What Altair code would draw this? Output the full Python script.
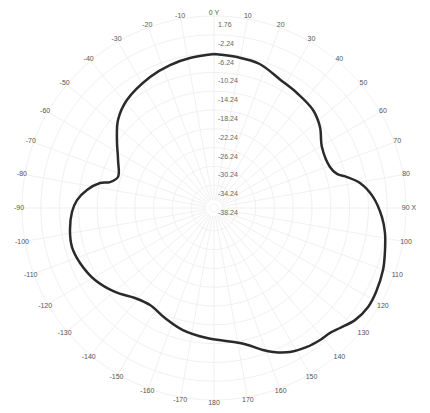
import altair as alt
import pandas as pd

# Radiation pattern (angle in degrees, clockwise from 0 Y; gain in dB)
angles = [0.0, 8.7, 17.6, 27.6, 35.8, 45.3, 52.6, 60.5, 70.5, 74.5, 76.9, 80.3,
          86.0, 93.1, 98.3, 103.8, 110.1, 117.4, 122.7, 128.5, 133.6, 137.1,
          141.2, 146.2, 152.2, 157.7, 161.0, 166.1, 169.1, 183.1, 194.3, 204.0,
          213.4, 221.3, 229.7, 238.8, 247.7, 254.6, 261.3, 268.4, 273.3, 278.1,
          282.4, 284.0, 287.9, 296.6, 305.0, 312.5, 321.1, 334.0, 342.9, 350.9, 360.0]
gains = [-6.33, -6.60, -6.95, -8.40, -8.92, -9.45, -10.71, -12.71, -12.92, -11.94,
         -10.03, -7.58, -5.18, -3.30, -2.33, -1.62, -0.79, -0.26, -0.13, -0.77,
         -2.07, -2.81, -3.07, -3.52, -4.45, -5.98, -7.13, -9.05, -9.84, -11.39,
         -12.30, -13.47, -14.37, -13.60, -11.47, -9.50, -8.28, -7.75, -8.09,
         -8.86, -9.90, -11.79, -14.26, -16.28, -17.62, -16.26, -13.88, -11.39,
         -9.58, -8.07, -7.26, -6.77, -6.33]

ring_values = [1.76, -2.24, -6.24, -10.24, -14.24, -18.24, -22.24, -26.24,
               -30.24, -34.24, -38.24]
ring_labels = ["1.76", "-2.24", "-6.24", "-10.24", "-14.24", "-18.24", "-22.24",
               "-26.24", "-30.24", "-34.24", "-38.24"]

angle_ticks = [0, 10, 20, 30, 40, 50, 60, 70, 80, 90, 100, 110, 120, 130, 140,
               150, 160, 170, 180, -170, -160, -150, -140, -130, -120, -110,
               -100, -90, -80, -70, -60, -50, -40, -30, -20, -10]
angle_labels = ["0 Y", "10", "20", "30", "40", "50", "60", "70", "80", "90 X",
                "100", "110", "120", "130", "140", "150", "160", "170", "180",
                "-170", "-160", "-150", "-140", "-130", "-120", "-110", "-100",
                "-90", "-80", "-70", "-60", "-50", "-40", "-30", "-20", "-10"]

grid_angles = list(range(0, 361, 3))
spoke_angles = list(range(0, 360, 10))

K = 4.7
BASE = -38.24
OFF = 4
R_EXPR = f"{K}*(datum.gain - ({BASE})) + {OFF}"

curve_df = pd.DataFrame({"angle": angles, "gain": gains, "idx": range(len(angles))})
rings_df = pd.DataFrame([(g, a) for g in ring_values for a in grid_angles],
                        columns=["gain", "angle"])
spokes_df = pd.DataFrame({"angle": spoke_angles})
ringlab_df = pd.DataFrame({"gain": ring_values, "label": ring_labels})
anglab_df = pd.DataFrame({"angle": angle_ticks, "label": angle_labels})

xs = alt.Scale(domain=[-206, 206], nice=False, zero=False)
ys = alt.Scale(domain=[-200, 200], nice=False, zero=False)


def xy(chart):
    return chart.transform_calculate(
        r=R_EXPR
    ).transform_calculate(
        x="datum.r*sin(datum.angle*PI/180)",
        y="datum.r*cos(datum.angle*PI/180)",
    )


rings = xy(alt.Chart(rings_df)).mark_line(color="#ececec", strokeWidth=0.8).encode(
    x=alt.X("x:Q", scale=xs, axis=None),
    y=alt.Y("y:Q", scale=ys, axis=None),
    detail="gain:N",
    order="angle:Q",
)

spokes = alt.Chart(spokes_df).transform_calculate(
    x="8*sin(datum.angle*PI/180)",
    y="8*cos(datum.angle*PI/180)",
    x2=f"({K}*(1.76-({BASE}))+{OFF})*sin(datum.angle*PI/180)",
    y2=f"({K}*(1.76-({BASE}))+{OFF})*cos(datum.angle*PI/180)",
).mark_rule(color="#ececec", strokeWidth=0.8).encode(
    x=alt.X("x:Q", scale=xs, axis=None),
    y=alt.Y("y:Q", scale=ys, axis=None),
    x2="x2:Q",
    y2="y2:Q",
)

curve = xy(alt.Chart(curve_df)).mark_line(color="#2a2a2a", strokeWidth=2.5,
                                          strokeJoin="round",
                                          interpolate="catmull-rom").encode(
    x=alt.X("x:Q", scale=xs, axis=None),
    y=alt.Y("y:Q", scale=ys, axis=None),
    order="idx:Q",
)

ringlabs = alt.Chart(ringlab_df).transform_calculate(
    r=R_EXPR
).transform_calculate(
    x="4", y="datum.r - 9"
).mark_text(align="left", baseline="middle", fontSize=7, color="#666",
            font="Liberation Sans").encode(
    x=alt.X("x:Q", scale=xs, axis=None),
    y=alt.Y("y:Q", scale=ys, axis=None),
    text="label:N",
)

anglabs = alt.Chart(anglab_df).transform_calculate(
    x="195*sin(datum.angle*PI/180)",
    y="195*cos(datum.angle*PI/180)",
).mark_text(align="center", baseline="middle", fontSize=7, color="#555",
            font="Liberation Sans").encode(
    x=alt.X("x:Q", scale=xs, axis=None),
    y=alt.Y("y:Q", scale=ys, axis=None),
    text="label:N",
)

chart = alt.layer(rings, spokes, ringlabs, anglabs, curve).properties(
    width=412, height=400, padding=0,
    autosize=alt.AutoSizeParams(type="none"),
).configure_view(stroke=None)

chart.save("out.html", embed_options={"renderer": "svg", "actions": False})
